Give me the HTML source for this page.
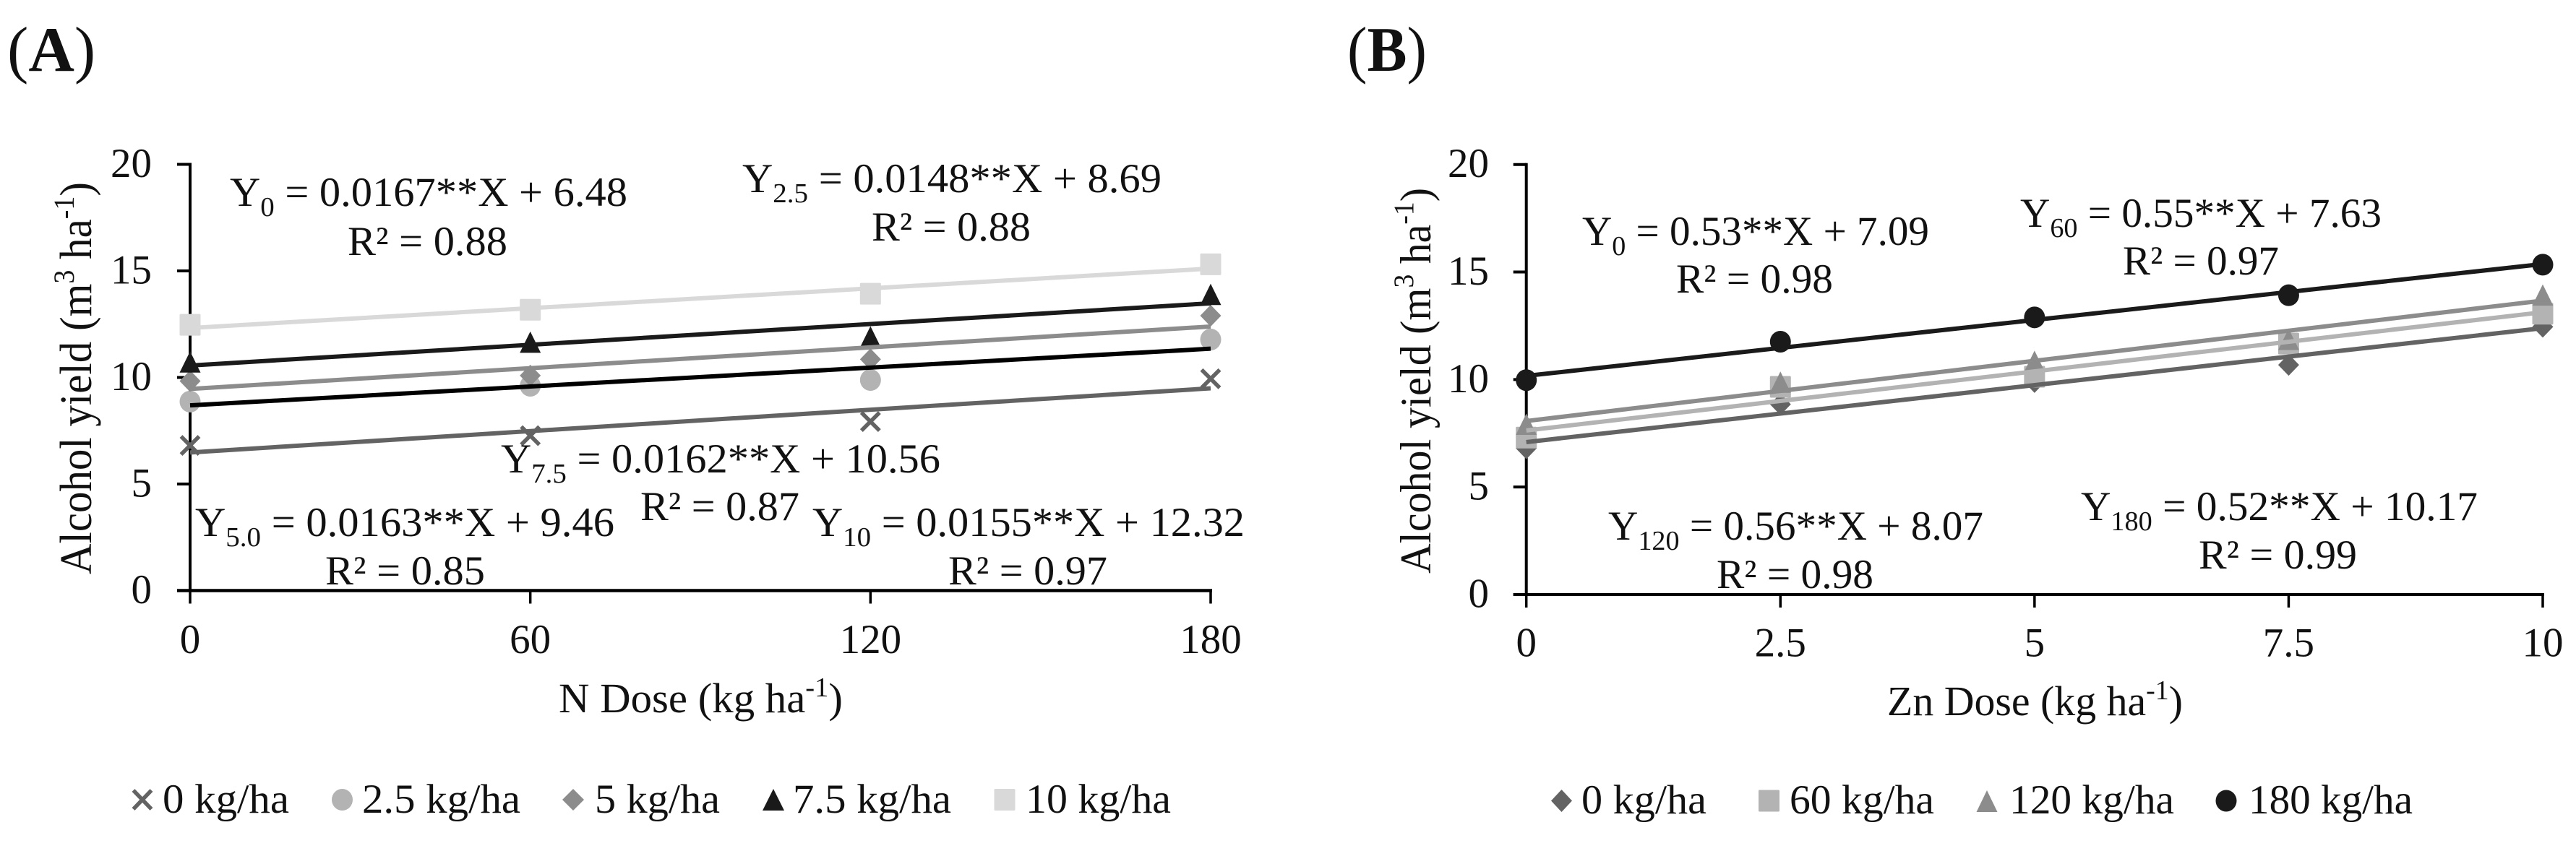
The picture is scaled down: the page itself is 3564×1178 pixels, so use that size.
<!DOCTYPE html>
<html lang="en">
<head>
<meta charset="utf-8">
<title>Alcohol yield versus N and Zn dose</title>
<style>
html,body{margin:0;padding:0;background:#fff;width:3564px;height:1178px;overflow:hidden}
svg{display:block}
text{font-family:"Liberation Serif","Times New Roman",serif;fill:#111}
.eq{font-size:57px}
.tk{font-size:57px}
.lg{font-size:57px}
</style>
</head>
<body>
<svg id="figure" xmlns="http://www.w3.org/2000/svg" width="3564" height="1178" viewBox="0 0 3564 1178">
<rect width="3564" height="1178" fill="#fff"/>
<g id="panelA"></g>
<g id="panelB"></g>

<text x="10" y="98" font-size="88">(<tspan font-weight="bold">A</tspan>)</text>
<text x="1864" y="98" font-size="88" textLength="110" lengthAdjust="spacingAndGlyphs">(<tspan font-weight="bold">B</tspan>)</text>

<!-- Axis titles -->
<text transform="translate(126,795) rotate(-90)" font-size="62" textLength="543" lengthAdjust="spacingAndGlyphs">Alcohol yield (m<tspan dy="-24" font-size="40">3</tspan><tspan dy="24"> ha</tspan><tspan dy="-24" font-size="40">-1</tspan><tspan dy="24">)</tspan></text>
<text transform="translate(1979,794) rotate(-90)" font-size="60" textLength="534" lengthAdjust="spacingAndGlyphs">Alcohol yield (m<tspan dy="-24" font-size="39">3</tspan><tspan dy="24"> ha</tspan><tspan dy="-24" font-size="39">-1</tspan><tspan dy="24">)</tspan></text>
<text x="773" y="986" font-size="58" textLength="393" lengthAdjust="spacingAndGlyphs">N Dose (kg ha<tspan dy="-22" font-size="38">-1</tspan><tspan dy="22">)</tspan></text>
<text x="2611" y="990" font-size="58" textLength="409" lengthAdjust="spacingAndGlyphs">Zn Dose (kg ha<tspan dy="-22" font-size="38">-1</tspan><tspan dy="22">)</tspan></text>

<!-- Panel A equations -->
<g>
<text class="eq" x="318" y="285" textLength="550" lengthAdjust="spacingAndGlyphs">Y<tspan dy="14" font-size="38">0</tspan><tspan dy="-14"> = 0.0167**X + 6.48</tspan></text>
<text class="eq" x="481" y="353" textLength="221" lengthAdjust="spacingAndGlyphs">R² = 0.88</text>
<text class="eq" x="1027" y="266" textLength="580" lengthAdjust="spacingAndGlyphs">Y<tspan dy="14" font-size="38">2.5</tspan><tspan dy="-14"> = 0.0148**X + 8.69</tspan></text>
<text class="eq" x="1206" y="333" textLength="220" lengthAdjust="spacingAndGlyphs">R² = 0.88</text>
<text class="eq" x="693" y="654" textLength="608" lengthAdjust="spacingAndGlyphs">Y<tspan dy="14" font-size="38">7.5</tspan><tspan dy="-14"> = 0.0162**X + 10.56</tspan></text>
<text class="eq" x="886" y="720" textLength="220" lengthAdjust="spacingAndGlyphs">R² = 0.87</text>
<text class="eq" x="270" y="742" textLength="580" lengthAdjust="spacingAndGlyphs">Y<tspan dy="14" font-size="38">5.0</tspan><tspan dy="-14"> = 0.0163**X + 9.46</tspan></text>
<text class="eq" x="450" y="809" textLength="221" lengthAdjust="spacingAndGlyphs">R² = 0.85</text>
<text class="eq" x="1124" y="742" textLength="598" lengthAdjust="spacingAndGlyphs">Y<tspan dy="14" font-size="38">10</tspan><tspan dy="-14"> = 0.0155**X + 12.32</tspan></text>
<text class="eq" x="1312" y="809" textLength="220" lengthAdjust="spacingAndGlyphs">R² = 0.97</text>
</g>

<!-- Panel B equations -->
<g>
<text class="eq" x="2189" y="339" textLength="480" lengthAdjust="spacingAndGlyphs">Y<tspan dy="14" font-size="38">0</tspan><tspan dy="-14"> = 0.53**X + 7.09</tspan></text>
<text class="eq" x="2319" y="405" textLength="217" lengthAdjust="spacingAndGlyphs">R² = 0.98</text>
<text class="eq" x="2795" y="314" textLength="500" lengthAdjust="spacingAndGlyphs">Y<tspan dy="14" font-size="38">60</tspan><tspan dy="-14"> = 0.55**X + 7.63</tspan></text>
<text class="eq" x="2937" y="380" textLength="216" lengthAdjust="spacingAndGlyphs">R² = 0.97</text>
<text class="eq" x="2225" y="747" textLength="519" lengthAdjust="spacingAndGlyphs">Y<tspan dy="14" font-size="38">120</tspan><tspan dy="-14"> = 0.56**X + 8.07</tspan></text>
<text class="eq" x="2375" y="814" textLength="217" lengthAdjust="spacingAndGlyphs">R² = 0.98</text>
<text class="eq" x="2879" y="720" textLength="549" lengthAdjust="spacingAndGlyphs">Y<tspan dy="14" font-size="38">180</tspan><tspan dy="-14"> = 0.52**X + 10.17</tspan></text>
<text class="eq" x="3042" y="787" textLength="219" lengthAdjust="spacingAndGlyphs">R² = 0.99</text>
</g>

<!-- Legend A -->
<g>
<g>
<path d="M184.5 1094 L209.5 1120 M209.5 1094 L184.5 1120" stroke="#636363" stroke-width="5.5" fill="none"/>
<text class="lg" x="225" y="1125" textLength="175" lengthAdjust="spacingAndGlyphs">0 kg/ha</text></g>
<g>
<ellipse cx="473.5" cy="1107" rx="14.5" ry="15" fill="#b3b3b3"/>
<text class="lg" x="501" y="1125" textLength="219" lengthAdjust="spacingAndGlyphs">2.5 kg/ha</text></g>
<g>
<polygon points="793,1092 808,1107 793,1122 778,1107" fill="#8c8c8c"/>
<text class="lg" x="823" y="1125" textLength="173" lengthAdjust="spacingAndGlyphs">5 kg/ha</text></g>
<g>
<polygon points="1070,1092 1085,1122 1055,1122" fill="#1a1a1a"/>
<text class="lg" x="1097" y="1125" textLength="219" lengthAdjust="spacingAndGlyphs">7.5 kg/ha</text></g>
<g>
<rect x="1375.5" y="1092" width="29" height="30" rx="1.5" fill="#d9d9d9"/>
<text class="lg" x="1419" y="1125" textLength="201" lengthAdjust="spacingAndGlyphs">10 kg/ha</text></g>
</g>

<!-- Legend B -->
<g>
<g>
<polygon points="2160.5,1093 2175,1108.5 2160.5,1124 2146,1108.5" fill="#636363"/>
<text class="lg" x="2188" y="1126" textLength="173" lengthAdjust="spacingAndGlyphs">0 kg/ha</text></g>
<g>
<rect x="2433" y="1093.5" width="29" height="30" rx="1.5" fill="#b3b3b3"/>
<text class="lg" x="2476" y="1126" textLength="200" lengthAdjust="spacingAndGlyphs">60 kg/ha</text></g>
<g>
<polygon points="2749,1094 2763.5,1124 2734.5,1124" fill="#8c8c8c"/>
<text class="lg" x="2780" y="1126" textLength="228" lengthAdjust="spacingAndGlyphs">120 kg/ha</text></g>
<g>
<ellipse cx="3080" cy="1108.5" rx="14.5" ry="15" fill="#1a1a1a"/>
<text class="lg" x="3111" y="1126" textLength="227" lengthAdjust="spacingAndGlyphs">180 kg/ha</text></g>
</g>
</svg>

<script>
// Tick labels
const yTicks = [0, 5, 10, 15, 20];
const xTicksA = [0, 60, 120, 180];
const xTicksB = [0, 2.5, 5, 7.5, 10];

// Panel A: alcohol yield by N dose, one series per Zn dose
const zn0 = [6.81, 7.27, 7.93, 9.94];
const zn2_5 = [8.87, 9.61, 9.88, 11.78];
const zn5 = [9.83, 10.09, 10.85, 12.90];
const zn7_5 = [10.72, 11.65, 11.90, 13.89];
const zn10 = [12.47, 13.18, 13.93, 15.31];

// Panel A: fitted trend values at the first and last dose
const trendZn0 = [6.48, 9.49];
const trendZn2_5 = [8.69, 11.35];
const trendZn5 = [9.46, 12.39];
const trendZn7_5 = [10.56, 13.48];
const trendZn10 = [12.32, 15.11];

// Panel B: alcohol yield by Zn dose, one series per N dose
const n0 = [6.80, 8.85, 9.88, 10.68, 12.45];
const n60 = [7.30, 9.66, 10.13, 11.67, 13.06];
const n120 = [7.91, 9.87, 10.84, 11.86, 13.92];
const n180 = [9.97, 11.76, 12.89, 13.92, 15.34];

// Panel B: fitted trend values at the first and last dose
const trendN0 = [7.09, 12.39];
const trendN60 = [7.63, 13.13];
const trendN120 = [8.07, 13.67];
const trendN180 = [10.17, 15.37];

const SVGNS = 'http://www.w3.org/2000/svg';

// Axis functions
function xA(v) { return 263 + v / 180 * 1412; }
function yA(v) { return 817.5 - v / 20 * 590; }
function xB(v) { return 2111.7 + v / 10 * 1406.3; }
function yB(v) { return 823 - v / 20 * 595.3; }

function make(parent, tag, attrs) {
  const el = document.createElementNS(SVGNS, tag);
  for (const k in attrs) el.setAttribute(k, attrs[k]);
  parent.appendChild(el);
  return el;
}

function drawMarker(parent, shape, cx, cy, color) {
  let el;
  if (shape === 'cross') {
    el = make(parent, 'path', { d: 'M' + (cx - 12.5) + ' ' + (cy - 12.5) + ' L' + (cx + 12.5) + ' ' + (cy + 12.5) + ' M' + (cx + 12.5) + ' ' + (cy - 12.5) + ' L' + (cx - 12.5) + ' ' + (cy + 12.5), stroke: color, 'stroke-width': 5.5, fill: 'none' });
  } else if (shape === 'circle') {
    el = make(parent, 'ellipse', { cx: cx, cy: cy, rx: 14.5, ry: 15, fill: color });
  } else if (shape === 'diamond') {
    el = make(parent, 'polygon', { points: cx + ',' + (cy - 15) + ' ' + (cx + 14.5) + ',' + cy + ' ' + cx + ',' + (cy + 15) + ' ' + (cx - 14.5) + ',' + cy, fill: color });
  } else if (shape === 'triangle') {
    el = make(parent, 'polygon', { points: cx + ',' + (cy - 15) + ' ' + (cx + 14.5) + ',' + (cy + 14.5) + ' ' + (cx - 14.5) + ',' + (cy + 14.5), fill: color });
  } else {
    el = make(parent, 'rect', { x: cx - 14.5, y: cy - 15, width: 29, height: 30, rx: 1.5, fill: color });
  }
  
  
}

function drawAxes(parent, xScale, yScale, xTicks, yLabelRight, xLabelBase, hWidth) {
  const x0 = xScale(xTicks[0]);
  const xN = xScale(xTicks[xTicks.length - 1]);
  const y0 = yScale(0);
  const yTop = yScale(20);

  const vAxis = make(parent, 'line', { x1: x0, y1: yTop - 2, x2: x0, y2: y0, stroke: '#000', 'stroke-width': 4 });
  
  

  const hAxis = make(parent, 'line', { x1: x0 - 18, y1: y0, x2: xN + 2, y2: y0, stroke: '#000', 'stroke-width': hWidth });
  
  

  yTicks.forEach(function (t) {
    const tick = make(parent, 'line', { x1: x0 - 18, y1: yScale(t), x2: x0, y2: yScale(t), stroke: '#000', 'stroke-width': 4 });
    
    
    const label = make(parent, 'text', { x: yLabelRight, y: yScale(t) + 17.5, 'text-anchor': 'end', class: 'tk' });
    label.textContent = String(t);
    
    
  });

  xTicks.forEach(function (t) {
    const tick = make(parent, 'line', { x1: xScale(t), y1: y0, x2: xScale(t), y2: y0 + 18, stroke: '#000', 'stroke-width': 3.5 });
    
    
    const label = make(parent, 'text', { x: xScale(t), y: xLabelBase, 'text-anchor': 'middle', class: 'tk' });
    label.textContent = String(t);
    
    
  });
}

function drawSeries(parent, xScale, yScale, xValues, values, shape, color) {
  const group = make(parent, 'g', {});
  
  
  values.forEach(function (v, i) {
    drawMarker(group, shape, xScale(xValues[i]), yScale(v), color);
  });
}

function drawTrend(parent, xScale, yScale, xValues, trend, color) {
  const line = make(parent, 'line', {
    x1: xScale(xValues[0]), y1: yScale(trend[0]),
    x2: xScale(xValues[xValues.length - 1]), y2: yScale(trend[1]),
    stroke: color, 'stroke-width': 6
  });
  
  
}

const panelA = document.getElementById('panelA');
const panelB = document.getElementById('panelB');

drawAxes(panelA, xA, yA, xTicksA, 210, 904, 4.5);
drawSeries(panelA, xA, yA, xTicksA, zn0, 'cross', '#636363');
drawSeries(panelA, xA, yA, xTicksA, zn2_5, 'circle', '#b3b3b3');
drawSeries(panelA, xA, yA, xTicksA, zn5, 'diamond', '#8c8c8c');
drawSeries(panelA, xA, yA, xTicksA, zn7_5, 'triangle', '#1a1a1a');
drawSeries(panelA, xA, yA, xTicksA, zn10, 'square', '#d9d9d9');
drawTrend(panelA, xA, yA, xTicksA, trendZn0, '#636363');
drawTrend(panelA, xA, yA, xTicksA, trendZn2_5, '#000000');
drawTrend(panelA, xA, yA, xTicksA, trendZn5, '#8c8c8c');
drawTrend(panelA, xA, yA, xTicksA, trendZn7_5, '#1a1a1a');
drawTrend(panelA, xA, yA, xTicksA, trendZn10, '#d9d9d9');

drawAxes(panelB, xB, yB, xTicksB, 2060, 908.5, 4);
drawSeries(panelB, xB, yB, xTicksB, n0, 'diamond', '#636363');
drawSeries(panelB, xB, yB, xTicksB, n60, 'square', '#b3b3b3');
drawSeries(panelB, xB, yB, xTicksB, n120, 'triangle', '#8c8c8c');
drawSeries(panelB, xB, yB, xTicksB, n180, 'circle', '#1a1a1a');
drawTrend(panelB, xB, yB, xTicksB, trendN0, '#636363');
drawTrend(panelB, xB, yB, xTicksB, trendN60, '#b3b3b3');
drawTrend(panelB, xB, yB, xTicksB, trendN120, '#8c8c8c');
drawTrend(panelB, xB, yB, xTicksB, trendN180, '#1a1a1a');
</script>
</body>
</html>
